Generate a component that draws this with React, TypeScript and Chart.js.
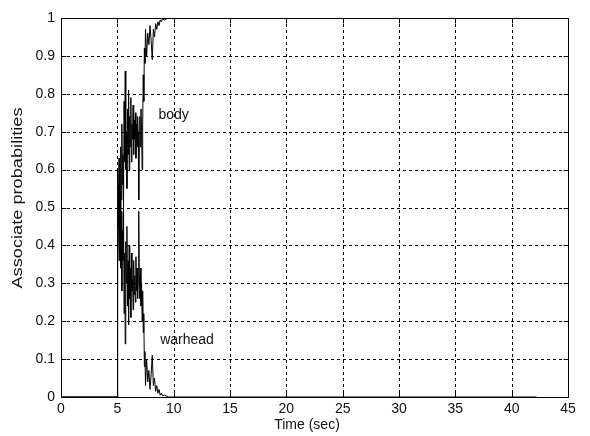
import React, { useEffect, useRef } from "react";
import { Chart, registerables } from "chart.js";

Chart.register(...registerables);

// ---- data ----
const timeSec = [
  0, 4.99,
  5.0, 5.05, 5.1, 5.15, 5.2, 5.25, 5.3, 5.35, 5.4, 5.45,
  5.5, 5.55, 5.6, 5.65, 5.7, 5.75, 5.8, 5.85, 5.9, 5.95,
  6.0, 6.05, 6.1, 6.15, 6.2, 6.25, 6.3, 6.35, 6.4, 6.45,
  6.5, 6.55, 6.6, 6.65, 6.7, 6.75, 6.8, 6.85, 6.9, 6.95,
  7.0, 7.05, 7.1, 7.15, 7.2, 7.25, 7.3, 7.35, 7.4, 7.45, 7.5,
  7.6, 7.7, 7.8, 7.9, 8.0, 8.1, 8.2, 8.3, 8.4, 8.5, 8.6, 8.7, 8.8, 8.9, 9.0,
  9.2, 9.5, 10, 12, 42.2,
];

const bodyProb = [
  0, 0,
  0.5, 0.4, 0.56, 0.36, 0.62, 0.47, 0.66, 0.52, 0.72, 0.56,
  0.64, 0.5, 0.78, 0.62, 0.86, 0.6, 0.7, 0.55, 0.76, 0.64,
  0.81, 0.6, 0.74, 0.66, 0.79, 0.62, 0.72, 0.68, 0.77, 0.64,
  0.73, 0.68, 0.75, 0.63, 0.72, 0.66, 0.74, 0.7, 0.52, 0.68,
  0.74, 0.66, 0.76, 0.7, 0.6, 0.72, 0.85, 0.78, 0.92, 0.88, 0.97,
  0.9, 0.96, 0.93, 0.98, 0.94, 0.89, 0.97, 0.95, 0.985, 0.97, 0.99, 0.98, 0.995, 0.99, 0.997,
  0.995, 1, 1, 1, 1,
];

const warheadProb = [
  0, 0,
  0.5, 0.6, 0.45, 0.63, 0.38, 0.54, 0.34, 0.49, 0.28, 0.44,
  0.36, 0.5, 0.22, 0.38, 0.14, 0.41, 0.3, 0.45, 0.24, 0.36,
  0.19, 0.4, 0.26, 0.34, 0.21, 0.38, 0.28, 0.31, 0.23, 0.36,
  0.27, 0.32, 0.25, 0.37, 0.28, 0.34, 0.26, 0.3, 0.49, 0.32,
  0.26, 0.34, 0.24, 0.3, 0.2, 0.28, 0.17, 0.22, 0.08, 0.12, 0.03,
  0.1, 0.04, 0.07, 0.02, 0.06, 0.11, 0.03, 0.05, 0.015, 0.03, 0.01, 0.02, 0.005, 0.01, 0.003,
  0.005, 0, 0, 0, 0,
];

const xTicks = [0, 5, 10, 15, 20, 25, 30, 35, 40, 45];
const yTicks = [0, 0.1, 0.2, 0.3, 0.4, 0.5, 0.6, 0.7, 0.8, 0.9, 1];

const seriesLabels = ["body", "warhead"];
const labelAnchorsX = [8.65, 8.8];
const labelAnchorsY = [0.744, 0.15];

const xTitle = "Time (sec)";
const yTitle = "Associate probabilities";

const FONT = "'Liberation Sans', Arial, sans-serif";

const matlabPlugin = {
  id: "matlabFrame",
  beforeDatasetsDraw(chart: any) {
    const { ctx, chartArea } = chart;
    const xs = chart.scales.x;
    const ys = chart.scales.y;
    const { left, right, top, bottom } = chartArea;
    ctx.save();
    ctx.strokeStyle = "#000";
    ctx.lineWidth = 1;
    ctx.setLineDash([3, 3]);
    xTicks.forEach((v) => {
      if (v === xTicks[0] || v === xTicks[xTicks.length - 1]) return;
      const px = Math.round(xs.getPixelForValue(v)) + 0.5;
      ctx.beginPath();
      ctx.moveTo(px, top);
      ctx.lineTo(px, bottom);
      ctx.stroke();
    });
    yTicks.forEach((v) => {
      if (v === yTicks[0] || v === yTicks[yTicks.length - 1]) return;
      const py = Math.round(ys.getPixelForValue(v)) + 0.5;
      ctx.beginPath();
      ctx.moveTo(left, py);
      ctx.lineTo(right, py);
      ctx.stroke();
    });
    ctx.restore();
  },
  afterDatasetsDraw(chart: any) {
    const { ctx, chartArea } = chart;
    const xs = chart.scales.x;
    const ys = chart.scales.y;
    const left = Math.round(chartArea.left) + 0.5;
    const right = Math.round(chartArea.right) + 0.5;
    const top = Math.round(chartArea.top) + 0.5;
    const bottom = Math.round(chartArea.bottom) + 0.5;
    ctx.save();
    ctx.strokeStyle = "#000";
    ctx.lineWidth = 1;
    ctx.setLineDash([]);
    ctx.strokeRect(left, top, right - left, bottom - top);
    const tl = 5;
    xTicks.forEach((v) => {
      const px = Math.round(xs.getPixelForValue(v)) + 0.5;
      ctx.beginPath();
      ctx.moveTo(px, bottom);
      ctx.lineTo(px, bottom - tl);
      ctx.moveTo(px, top);
      ctx.lineTo(px, top + tl);
      ctx.stroke();
    });
    yTicks.forEach((v) => {
      const py = Math.round(ys.getPixelForValue(v)) + 0.5;
      ctx.beginPath();
      ctx.moveTo(left, py);
      ctx.lineTo(left + tl, py);
      ctx.moveTo(right, py);
      ctx.lineTo(right - tl, py);
      ctx.stroke();
    });

    ctx.fillStyle = "#111";
    ctx.font = `14px ${FONT}`;
    ctx.textBaseline = "middle";
    ctx.textAlign = "left";
    seriesLabels.forEach((s, i) => {
      ctx.fillText(s, xs.getPixelForValue(labelAnchorsX[i]), ys.getPixelForValue(labelAnchorsY[i]));
    });

    ctx.textAlign = "center";
    ctx.fillText(xTitle, 307, 425);
    ctx.translate(18, 198);
    ctx.scale(1, 1.3);
    ctx.rotate(-Math.PI / 2);
    ctx.fillText(yTitle, 0, 0);
    ctx.restore();
  },
};

export default function App() {
  const canvasRef = useRef<HTMLCanvasElement | null>(null);

  useEffect(() => {
    const canvas = canvasRef.current;
    if (!canvas) return;
    const chart = new Chart(canvas, {
      type: "line",
      data: {
        datasets: [
          {
            label: seriesLabels[0],
            data: timeSec.map((t, i) => ({ x: t, y: bodyProb[i] })),
            borderColor: "#000",
            borderWidth: 1,
            pointRadius: 0,
            tension: 0,
            fill: false,
          },
          {
            label: seriesLabels[1],
            data: timeSec.map((t, i) => ({ x: t, y: warheadProb[i] })),
            borderColor: "#000",
            borderWidth: 1,
            pointRadius: 0,
            tension: 0,
            fill: false,
          },
        ],
      },
      options: {
        animation: false,
        responsive: false,
        maintainAspectRatio: false,
        devicePixelRatio: 1,
        layout: { padding: { left: 0, right: 22, top: 18, bottom: 0 } },
        plugins: {
          legend: { display: false },
          tooltip: { enabled: false },
        },
        scales: {
          x: {
            type: "linear",
            min: 0,
            max: 45,
            afterBuildTicks: (scale: any) => {
              scale.ticks = xTicks.map((v) => ({ value: v }));
            },
            afterFit: (scale: any) => {
              scale.height = 39;
            },
            grid: { display: false, drawTicks: false },
            border: { display: false },
            ticks: {
              color: "#111",
              font: { family: FONT, size: 14 },
              padding: 4,
              maxRotation: 0,
              autoSkip: false,
              callback: (v: any) => String(v),
            },
          },
          y: {
            type: "linear",
            min: 0,
            max: 1,
            afterBuildTicks: (scale: any) => {
              scale.ticks = yTicks.map((v) => ({ value: v }));
            },
            afterFit: (scale: any) => {
              scale.width = 61;
            },
            grid: { display: false, drawTicks: false },
            border: { display: false },
            ticks: {
              color: "#111",
              font: { family: FONT, size: 14 },
              padding: 6,
              autoSkip: false,
              callback: (v: any) => String(Math.round(Number(v) * 10) / 10),
            },
          },
        },
      },
      plugins: [matlabPlugin],
    });
    return () => chart.destroy();
  }, []);

  return (
    <div style={{ position: "absolute", left: 0, top: 0, width: 590, height: 436, background: "#fff" }}>
      <canvas ref={canvasRef} width={590} height={436} style={{ display: "block", width: 590, height: 436 }} />
    </div>
  );
}
